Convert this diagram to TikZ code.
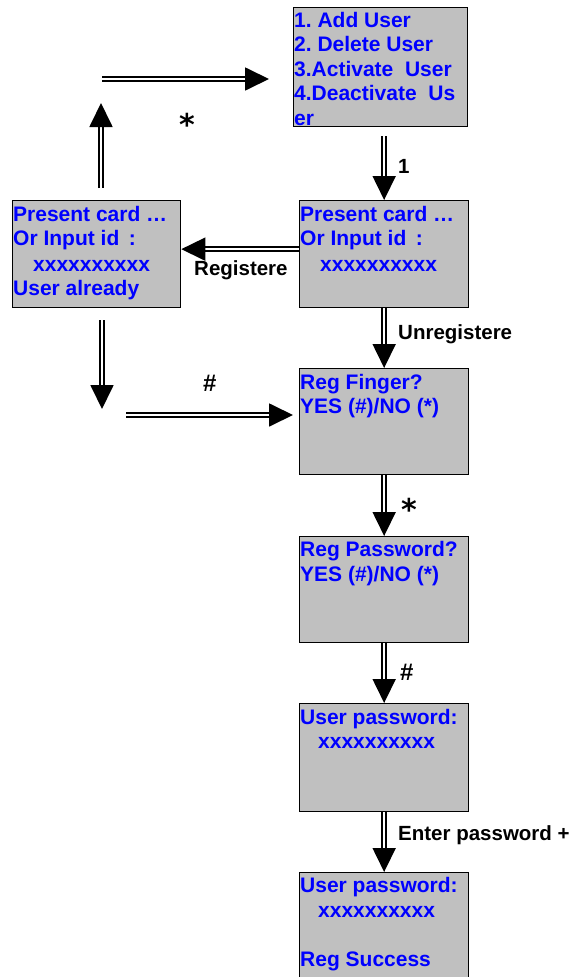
\documentclass[tikz,border=0pt]{standalone}
\usepackage{fontspec}
\setmainfont{Liberation Sans}
\newfontfamily\starfont{DejaVu Sans}
\usetikzlibrary{arrows.meta}
\usetikzlibrary{positioning}
\definecolor{screengray}{RGB}{192,192,192}
\definecolor{screenblue}{RGB}{0,0,255}
\frenchspacing

\begin{document}
\begin{tikzpicture}
		[x=1pt, y=-1pt,
		screen/.style = {draw=black, line width=1.3pt, fill=screengray, anchor=north west, inner sep=0pt},
		screentext/.style = {inner sep=0pt, align=left, text=screenblue, font=\bfseries\fontsize{21}{24.5}\selectfont},
		lbl/.style = {inner sep=0pt, anchor=base west, font=\bfseries\fontsize{20.5}{23}\selectfont},
		hashlbl/.style = {lbl, font=\bfseries\fontsize{24}{26}\selectfont},
		starlbl/.style = {inner sep=0pt, anchor=north, font=\starfont\bfseries\fontsize{30}{30}\selectfont},
		dbl/.style = {line width=1.8pt, double distance=2.2pt, -{Triangle[length=24pt,width=23pt]}}
		]
		\useasboundingbox (0,0) rectangle (575,977);
		\clip (0,0) rectangle (575,977);

		% screens
		\node[screen, minimum width=174pt, minimum height=119pt] (menu) at (293,7) {};
		\node[screen, minimum width=168pt, minimum height=107pt] (known) at (12,200) {};
		\node[screen, minimum width=169pt, minimum height=107pt] (card) at (299,200) {};
		\node[screen, minimum width=169pt, minimum height=106pt] (finger) at (299,368) {};
		\node[screen, minimum width=169pt, minimum height=106pt] (passwd) at (299,536) {};
		\node[screen, minimum width=169pt, minimum height=108pt] (userpw) at (299,703) {};
		\node[screen, minimum width=169pt, minimum height=112pt] (success) at (299,872) {};

		\node[screentext, below right=5pt and 1pt of menu.north west] (menutext)
			{1. Add User\\2. Delete User\\3.Activate\ \ User\\4.Deactivate\ \ Us\\er};
		\node[screentext, below right=6pt and 1pt of known.north west] (knowntext)
			{Present card \ldots\\Or Input id\hspace{0.45em}:\\[1pt]\hspace*{20pt}xxxxxxxxxx\\User already};
		\node[screentext, below right=6pt and 1pt of card.north west] (cardtext)
			{Present card \ldots\\Or Input id\hspace{0.45em}:\\[1pt]\hspace*{20pt}xxxxxxxxxx};
		\node[screentext, below right=6pt and 1pt of finger.north west] (fingertext)
			{Reg Finger?\\YES (\#)/NO (*)};
		\node[screentext, below right=5.5pt and 1pt of passwd.north west] (passwdtext)
			{Reg Password?\\YES (\#)/NO (*)};
		\node[screentext, below right=6pt and 1pt of userpw.north west] (userpwtext)
			{User password:\\\hspace*{18pt}xxxxxxxxxx};
		\node[screentext, below right=5.5pt and 1pt of success.north west] (successtext)
			{User password:\\\hspace*{18pt}xxxxxxxxxx\\[24.5pt]Reg Success};

		% free ends
		\coordinate (backtip) at (101,103);
		\coordinate (backstart) at (102,79);
		\coordinate (hashtip) at (102,409);
		\coordinate (hashstart) at (126,415);

		\draw[dbl, shorten <=9pt] (menu.south -| card.north) -- (card.north);
		\draw[dbl] ([yshift=5pt]card.west) -- ([yshift=5pt]card.west -| known.east);
		\draw[dbl, shorten <=12pt] (known.north -| backtip) -- (backtip);
		\draw[dbl, shorten >=24pt] (backstart) -- (backstart -| menu.west);
		\draw[dbl, shorten <=12pt] (known.south -| hashtip) -- (hashtip);
		\draw[dbl, shorten >=6pt] (hashstart) -- (hashstart -| finger.west);
		\draw[dbl] (card.south) -- (finger.north);
		\draw[dbl] (finger.south) -- (passwd.north);
		\draw[dbl] (passwd.south) -- (userpw.north);
		\draw[dbl] (userpw.south) -- (success.north);

		% labels
		\node[lbl] (one) at (398,173) {1};
		\node[lbl] (reg) at (194,275) {Registere};
		\node[lbl] (unreg) at (398,339) {Unregistere};
		\node[lbl] (enter) at (398,840) {Enter password +};
		\node[hashlbl] (hashtop) at (203,391) {\#};
		\node[hashlbl] (hashlow) at (400,680) {\#};
		\node[starlbl] (startop) at (187,113) {*};
		\node[starlbl] (starlow) at (409,498) {*};
	\end{tikzpicture}
\end{document}
